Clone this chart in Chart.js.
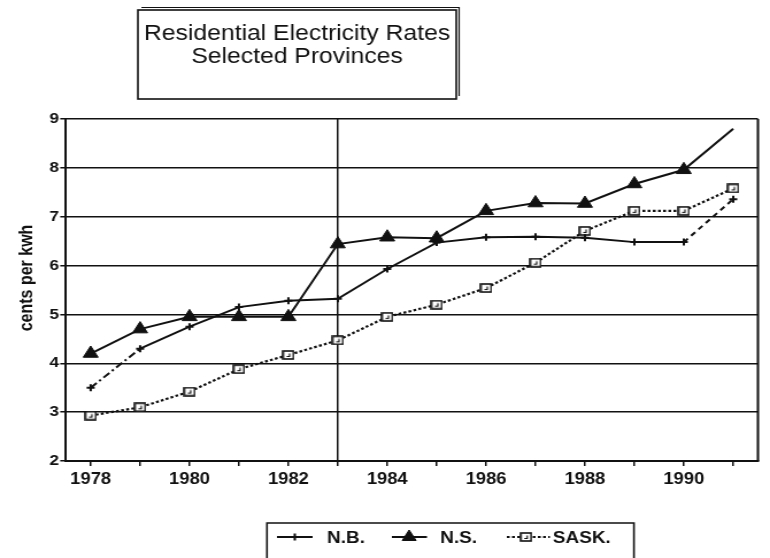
<!DOCTYPE html>
<html>
<head>
<meta charset="utf-8">
<script src="https://cdn.jsdelivr.net/npm/chart.js@4/dist/chart.umd.min.js"></script>
<style>
  html, body { margin: 0; padding: 0; background: #fff; }
  #wrap { width: 770px; height: 558px; overflow: hidden; }
  canvas { display: block; }
</style>
</head>
<body>
<div id="wrap">
  <!-- drawn at 670 px wide and shown at 770 px, giving the wide lettering of the printed chart -->
  <canvas id="chart" width="670" height="558" style="width:770px;height:558px"></canvas>
</div>
<script>
// ---- data ----
const years = ['1978', '1979', '1980', '1981', '1982', '1983', '1984',
               '1985', '1986', '1987', '1988', '1989', '1990', '1991'];
const seriesNames = ['N.B.', 'N.S.', 'SASK.'];
const nbRates   = [3.50, 4.30, 4.75, 5.15, 5.28, 5.32, 5.93, 6.47, 6.58, 6.59, 6.57, 6.48, 6.48, 7.36];
const nsRates   = [4.20, 4.70, 4.95, 4.95, 4.95, 6.44, 6.58, 6.56, 7.12, 7.28, 7.27, 7.67, 7.96, 8.80];
const saskRates = [2.93, 3.10, 3.42, 3.88, 4.17, 4.47, 4.95, 5.20, 5.54, 6.06, 6.71, 7.12, 7.12, 7.58];
const yMin = 2, yMax = 9, yStep = 1;
const titleLines = ['Residential Electricity Rates', 'Selected Provinces'];
const yAxisTitle = 'cents per kwh';
const dividerYear = '1983';

// ---- styling ----
const INK = '#111';
const FONT = '"Liberation Sans", Arial, Helvetica, sans-serif';

// open square marker with a small mark inside, used for SASK.
function makeSquareMarker() {
  const c = document.createElement('canvas');
  c.width = 11; c.height = 10;
  const g = c.getContext('2d');
  g.fillStyle = '#fff';
  g.fillRect(1, 1, 9, 8);
  g.strokeStyle = INK;
  g.lineWidth = 1.6;
  g.strokeRect(1, 1, 9, 8);
  g.lineWidth = 1.2;
  g.beginPath();
  g.moveTo(4, 6.5); g.lineTo(6.5, 6.5); g.lineTo(6.5, 3.5);
  g.stroke();
  return c;
}
const squareMarker = makeSquareMarker();

// plot area placement (canvas px)
const AREA = { left: 57.4, right: 659.5, top: 119, bottom: 461 };
const CANVAS_W = 670, CANVAS_H = 558;

const decorPlugin = {
  id: 'decor',
  afterDraw(chart) {
    const ctx = chart.ctx;
    const ca = chart.chartArea;
    ctx.save();

    // right edge of the plot frame
    ctx.strokeStyle = INK;
    ctx.lineWidth = 2;
    ctx.beginPath();
    ctx.moveTo(ca.right, ca.top);
    ctx.lineTo(ca.right, ca.bottom);
    ctx.stroke();

    // title box
    const bx = 120, by = 10, bw = 277, bh = 89;
    ctx.lineWidth = 1.6;
    ctx.strokeRect(bx, by, bw, bh);
    ctx.lineWidth = 1.2;
    ctx.beginPath();
    ctx.moveTo(bx + 3, by - 2.5); ctx.lineTo(bx + bw + 2.5, by - 2.5); ctx.lineTo(bx + bw + 2.5, by + bh - 3);
    ctx.stroke();

    ctx.fillStyle = INK;
    ctx.font = '21.5px ' + FONT;
    ctx.textAlign = 'center';
    ctx.textBaseline = 'alphabetic';
    const cx = bx + bw / 2;
    ctx.fillText(titleLines[0], cx, 40);
    ctx.fillText(titleLines[1], cx, 63);

    // y axis title
    ctx.save();
    ctx.translate(23.5, 278);
    ctx.rotate(-Math.PI / 2);
    ctx.font = 'bold 16px ' + FONT;
    ctx.textBaseline = 'middle';
    ctx.textAlign = 'center';
    ctx.fillText(yAxisTitle, 0, 0);
    ctx.restore();

    // legend box
    const lx = 232.3, ly = 523, lw = 319.3;
    ctx.lineWidth = 1.6;
    ctx.beginPath();
    ctx.moveTo(lx, CANVAS_H + 5); ctx.lineTo(lx, ly); ctx.lineTo(lx + lw, ly); ctx.lineTo(lx + lw, CANVAS_H + 5);
    ctx.stroke();

    // legend entries: symbol from-x, to-x, marker-x, text-x
    const slots = [
      [241, 272, 256.5, 284.5],
      [341, 371.5, 356, 383],
      [441, 478.5, 457.7, 481]
    ];
    const ly0 = 537;
    chart.data.datasets.forEach((ds, i) => {
      const [x0, x1, mx, tx] = slots[i];
      ctx.save();
      ctx.strokeStyle = INK;
      ctx.fillStyle = INK;
      ctx.lineWidth = ds.borderWidth;
      ctx.setLineDash(ds.borderDash || []);
      ctx.beginPath();
      ctx.moveTo(x0, ly0); ctx.lineTo(x1, ly0);
      ctx.stroke();
      ctx.setLineDash([]);
      ctx.lineWidth = ds.pointBorderWidth;
      Chart.helpers.drawPoint(ctx, {
        pointStyle: ds.pointStyle,
        radius: ds.legendRadius,
        rotation: 0,
        borderWidth: ds.pointBorderWidth
      }, mx, ly0);
      ctx.restore();
      ctx.fillStyle = INK;
      ctx.font = 'bold 16.5px ' + FONT;
      ctx.textAlign = 'left';
      ctx.textBaseline = 'middle';
      ctx.fillText(ds.label, tx, ly0 + 1);
    });
    ctx.restore();
  }
};

new Chart(document.getElementById('chart'), {
  type: 'line',
  data: {
    labels: years,
    datasets: [
      {
        label: seriesNames[0],
        data: nbRates,
        borderColor: INK,
        borderWidth: 2,
        pointStyle: 'cross',
        pointRadius: 3.5,
        legendRadius: 3.5,
        pointBorderWidth: 2,
        pointBorderColor: INK,
        pointBackgroundColor: INK,
        segment: {
          borderDash: c => c.p0DataIndex === 0 ? [7, 3, 2, 3]
                         : (c.p0DataIndex === years.length - 2 ? [5, 4] : undefined)
        }
      },
      {
        label: seriesNames[1],
        data: nsRates,
        borderColor: INK,
        borderWidth: 2,
        pointStyle: 'triangle',
        pointRadius: nsRates.map((v, i) => i === nsRates.length - 1 ? 0 : 7.5),
        legendRadius: 7,
        pointBorderWidth: 1,
        pointBorderColor: INK,
        pointBackgroundColor: INK
      },
      {
        label: seriesNames[2],
        data: saskRates,
        borderColor: INK,
        borderWidth: 2.2,
        borderDash: [2.5, 2],
        pointStyle: squareMarker,
        pointRadius: 5,
        legendRadius: 5,
        pointBorderWidth: 1
      }
    ]
  },
  options: {
    responsive: false,
    animation: false,
    devicePixelRatio: 1,
    layout: {
      padding: { top: AREA.top, left: 0, right: CANVAS_W - AREA.right, bottom: CANVAS_H - AREA.bottom - 40 }
    },
    plugins: {
      legend: { display: false },
      title: { display: false },
      tooltip: { enabled: false }
    },
    elements: { line: { tension: 0 } },
    scales: {
      x: {
        type: 'category',
        offset: true,
        afterFit(scale) { scale.height = 40; },
        border: { display: true, color: INK, width: 2 },
        grid: {
          offset: false,
          drawOnChartArea: true,
          drawTicks: true,
          tickLength: 5,
          tickWidth: 1.5,
          tickColor: INK,
          lineWidth: 1.5,
          color: c => (years[c.index] === dividerYear ? INK : 'rgba(0,0,0,0)')
        },
        ticks: {
          autoSkip: false,
          maxRotation: 0,
          padding: 4,
          color: INK,
          font: { family: FONT, size: 16, weight: 'bold' },
          callback: (v, i) => (Number(years[i]) % 2 === 0 ? years[i] : '')
        }
      },
      y: {
        min: yMin,
        max: yMax,
        afterFit(scale) { scale.width = AREA.left; },
        border: { display: true, color: INK, width: 2 },
        grid: {
          color: INK,
          lineWidth: 1.5,
          tickLength: 5,
          tickColor: INK
        },
        ticks: {
          stepSize: yStep,
          padding: 1,
          color: INK,
          font: { family: FONT, size: 15, weight: 'bold' }
        }
      }
    }
  },
  plugins: [decorPlugin]
});
</script>
</body>
</html>
